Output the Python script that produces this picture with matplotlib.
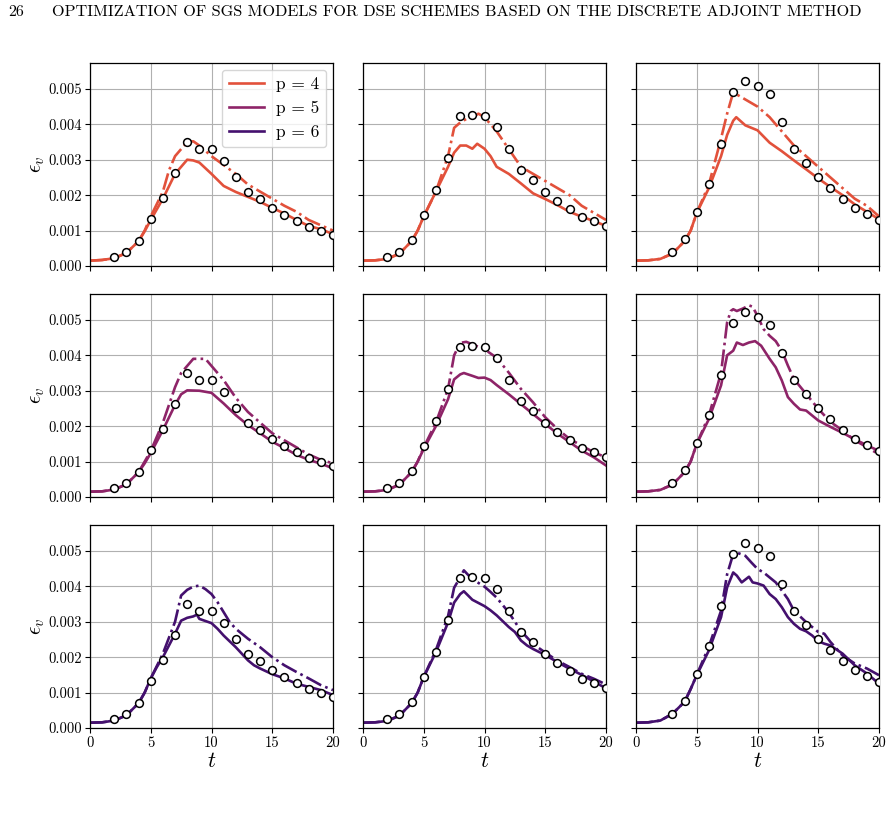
import matplotlib
matplotlib.use("Agg")
import matplotlib.pyplot as plt

plt.rcParams['font.family'] = ['cmr10', 'DejaVu Serif']
plt.rcParams['mathtext.fontset'] = 'cm'
plt.rcParams['axes.formatter.use_mathtext'] = True

# ---------------- data ----------------
orders = [4, 5, 6]
colors = ['#e2513b', '#8e2468', '#44106e']

# reference (DNS) points, per column
ref_t_c1 = [2, 3, 4, 5, 6, 7, 8, 9, 10, 11, 12, 13, 14, 15, 16, 17, 18, 19, 20]
ref_y_c1 = [0.00024, 0.00039, 0.0007, 0.00132, 0.00193, 0.00262, 0.00349, 0.00329, 0.00331, 0.00297,
            0.0025, 0.00209, 0.00188, 0.00163, 0.00144, 0.00126, 0.0011, 0.00099, 0.00088]
ref_t_c2 = [2, 3, 4, 5, 6, 7, 8, 9, 10, 11, 12, 13, 14, 15, 16, 17, 18, 19, 20]
ref_y_c2 = [0.00024, 0.00039, 0.00073, 0.00144, 0.00214, 0.00306, 0.00424, 0.00427, 0.00423, 0.00393,
            0.0033, 0.00272, 0.00242, 0.00209, 0.00184, 0.0016, 0.00139, 0.00126, 0.00112]
ref_t_c3 = [3, 4, 5, 6, 7, 8, 9, 10, 11, 12, 13, 14, 15, 16, 17, 18, 19, 20]
ref_y_c3 = [0.00039, 0.00075, 0.00153, 0.00231, 0.00343, 0.00491, 0.00522, 0.00508, 0.00486, 0.00407,
            0.00329, 0.00291, 0.00251, 0.00219, 0.0019, 0.00164, 0.00146, 0.0013]

# p = 4
p4c1_solid_t = [0, 1, 2, 3, 4, 4.5, 5, 6, 7, 7.5, 8, 8.5, 9, 10, 11, 12, 13, 14, 15, 16, 17, 18, 19, 20]
p4c1_solid_y = [0.00015, 0.00017, 0.00022, 0.00037, 0.0007, 0.00098, 0.0013, 0.0019, 0.0026, 0.0028, 0.003,
                0.00298, 0.00292, 0.0026, 0.00226, 0.00209, 0.00195, 0.00181, 0.00164, 0.00148, 0.0013,
                0.00113, 0.00104, 0.0009]
p4c1_dash_t = [0, 1, 2, 3, 4, 4.5, 5, 6, 6.5, 7, 7.5, 8, 8.5, 9, 10, 11, 12, 13, 14, 15, 16, 17, 18, 19, 20]
p4c1_dash_y = [0.00015, 0.00017, 0.00022, 0.00037, 0.0007, 0.001, 0.0014, 0.0021, 0.0027, 0.0031, 0.0033,
               0.0035, 0.00352, 0.0034, 0.0031, 0.00285, 0.0026, 0.0023, 0.0021, 0.0019, 0.0017, 0.00153,
               0.0013, 0.00115, 0.001]
p4c2_solid_t = [0, 1, 2, 3, 4, 4.5, 5, 6, 7, 7.5, 8, 8.5, 9, 9.4, 10, 10.5, 11, 11.5, 12, 13, 14, 15, 16, 17,
                18, 19, 20]
p4c2_solid_y = [0.00015, 0.00016, 0.0002, 0.00035, 0.0007, 0.001, 0.0014, 0.0021, 0.0028, 0.0032, 0.0034,
                0.0034, 0.00331, 0.00345, 0.00331, 0.0031, 0.0028, 0.0027, 0.0026, 0.00233, 0.00205,
                0.00189, 0.00172, 0.00153, 0.00139, 0.00127, 0.00113]
p4c2_dash_t = [0, 1, 2, 3, 4, 4.5, 5, 6, 7, 7.5, 8, 8.5, 9, 9.5, 10, 11, 12, 13, 14, 15, 16, 17, 18, 19, 20]
p4c2_dash_y = [0.00015, 0.00016, 0.0002, 0.00035, 0.0007, 0.001, 0.0014, 0.0021, 0.0031, 0.0039, 0.00405,
               0.00415, 0.0042, 0.0043, 0.0042, 0.0038, 0.0033, 0.0028, 0.0026, 0.0024, 0.0022, 0.002,
               0.0017, 0.0015, 0.0013]
p4c3_solid_t = [0, 1, 2, 3, 4, 4.5, 5, 6, 7, 7.5, 8, 8.25, 9, 10, 11, 12, 13, 14, 15, 16, 17, 18, 19, 20]
p4c3_solid_y = [0.00015, 0.00016, 0.0002, 0.00035, 0.0007, 0.001, 0.0015, 0.0022, 0.0031, 0.0037, 0.0041,
                0.0042, 0.00397, 0.00383, 0.00348, 0.00324, 0.00298, 0.00273, 0.00247, 0.00223, 0.002,
                0.00174, 0.00153, 0.00132]
p4c3_dash_t = [0, 1, 2, 3, 4, 4.5, 5, 6, 7, 7.5, 8, 8.5, 9, 10, 11, 12, 13, 14, 15, 16, 17, 18, 19, 20]
p4c3_dash_y = [0.00015, 0.00016, 0.0002, 0.00035, 0.0007, 0.001, 0.0015, 0.0023, 0.0036, 0.0043, 0.0049,
               0.0048, 0.0047, 0.0045, 0.0042, 0.0038, 0.0034, 0.0031, 0.0028, 0.0025, 0.0022, 0.0019,
               0.0017, 0.0014]

# p = 5
p5c1_solid_t = [0, 1, 2, 3, 4, 4.5, 5, 6, 7, 7.5, 8, 9, 10, 11, 12, 13, 14, 15, 16, 17, 18, 19, 20]
p5c1_solid_y = [0.00015, 0.00016, 0.00021, 0.00036, 0.0007, 0.00095, 0.00124, 0.00189, 0.0026, 0.0029,
                0.00301, 0.003, 0.00294, 0.00264, 0.00231, 0.00203, 0.0018, 0.00156, 0.00138, 0.00119,
                0.00105, 0.00094, 0.00081]
p5c1_dash_t = [0, 1, 2, 3, 4, 4.5, 5, 6, 7, 7.5, 8, 8.5, 9, 9.5, 10, 11, 12, 13, 14, 15, 16, 17, 18, 19, 20]
p5c1_dash_y = [0.00015, 0.00016, 0.00021, 0.00036, 0.0007, 0.001, 0.0013, 0.0021, 0.0031, 0.0035, 0.0037,
               0.0039, 0.0039, 0.0039, 0.0037, 0.0033, 0.0028, 0.0024, 0.0021, 0.0018, 0.0016, 0.0014,
               0.0012, 0.00105, 0.00095]
p5c2_solid_t = [0, 1, 2, 3, 4, 4.5, 5, 6, 7, 7.5, 8, 8.3, 9, 9.5, 10, 10.5, 11, 12, 13, 14, 15, 16, 17, 18,
                19, 20]
p5c2_solid_y = [0.00015, 0.00016, 0.0002, 0.00035, 0.0007, 0.001, 0.00136, 0.002, 0.00276, 0.00332, 0.00346,
                0.0035, 0.00342, 0.00336, 0.00337, 0.0033, 0.00316, 0.0029, 0.00262, 0.00234, 0.00206,
                0.00179, 0.00155, 0.00131, 0.00112, 0.00089]
p5c2_dash_t = [0, 1, 2, 3, 4, 4.5, 5, 6, 7, 7.5, 8, 8.5, 9, 10, 11, 12, 13, 14, 15, 16, 17, 18, 19, 20]
p5c2_dash_y = [0.00015, 0.00016, 0.0002, 0.00035, 0.0007, 0.001, 0.0014, 0.0021, 0.00305, 0.004, 0.00435,
               0.00438, 0.00431, 0.00417, 0.00393, 0.00351, 0.00305, 0.00267, 0.00225, 0.00192, 0.00164,
               0.00145, 0.00126, 0.00112]
p5c3_solid_t = [0, 1, 2, 3, 4, 4.5, 5, 6, 7, 7.5, 8, 8.3, 8.8, 9.3, 9.8, 10.3, 11, 11.5, 12, 12.5, 13, 13.5,
                14, 14.5, 15, 16, 17, 18, 19, 20]
p5c3_solid_y = [0.00015, 0.00016, 0.0002, 0.00035, 0.0007, 0.001, 0.0015, 0.0022, 0.00315, 0.004, 0.00413,
                0.00436, 0.00429, 0.00436, 0.0044, 0.00427, 0.0039, 0.00366, 0.00329, 0.00282, 0.00263,
                0.00247, 0.00244, 0.0023, 0.00216, 0.00198, 0.00181, 0.00163, 0.00146, 0.0013]
p5c3_dash_t = [0, 1, 2, 3, 4, 4.5, 5, 6, 7, 7.5, 7.8, 8, 8.3, 8.8, 9.3, 9.6, 10, 10.5, 11, 11.5, 12, 12.5,
               13, 14, 15, 16, 17, 18, 19, 20]
p5c3_dash_y = [0.00015, 0.00016, 0.0002, 0.00035, 0.0007, 0.001, 0.0015, 0.0023, 0.0035, 0.00493, 0.00525,
               0.0053, 0.00525, 0.00532, 0.00541, 0.00537, 0.00511, 0.00474, 0.00455, 0.0044, 0.00413,
               0.00371, 0.00333, 0.00291, 0.00249, 0.00212, 0.00188, 0.0016, 0.00141, 0.0012]

# p = 6
p6c1_solid_t = [0, 1, 2, 3, 4, 4.5, 5, 5.5, 6, 7, 7.5, 8, 8.5, 8.8, 9, 10, 10.5, 11, 12, 13, 13.5, 14, 15,
                16, 17, 18, 19, 20]
p6c1_solid_y = [0.00015, 0.00016, 0.00021, 0.00036, 0.0007, 0.001, 0.0014, 0.00172, 0.002, 0.00266, 0.00303,
                0.00311, 0.00315, 0.0032, 0.00308, 0.00296, 0.0028, 0.00261, 0.00228, 0.00191, 0.00177,
                0.00168, 0.00152, 0.0014, 0.00125, 0.00116, 0.00107, 0.00093]
p6c1_dash_t = [0, 1, 2, 3, 4, 4.5, 5, 6, 7, 7.5, 8, 8.5, 9, 9.5, 10, 10.5, 11, 11.5, 12, 13, 14, 15, 16, 17,
               18, 19, 20]
p6c1_dash_y = [0.00015, 0.00016, 0.00021, 0.00036, 0.0007, 0.001, 0.0014, 0.0021, 0.003, 0.00374, 0.0039,
               0.00399, 0.00402, 0.00392, 0.00378, 0.00355, 0.00327, 0.00299, 0.0028, 0.00252, 0.00228,
               0.002, 0.00177, 0.00158, 0.0014, 0.00121, 0.00107]
p6c2_solid_t = [0, 1, 2, 3, 4, 4.5, 5, 6, 7, 7.5, 8, 8.3, 9, 9.5, 10, 10.5, 11, 12, 12.5, 13, 13.5, 14, 15,
                16, 17, 18, 19, 20]
p6c2_solid_y = [0.00015, 0.00016, 0.0002, 0.00035, 0.0007, 0.001, 0.00144, 0.00214, 0.00298, 0.00354,
                0.00378, 0.00386, 0.00362, 0.00353, 0.00344, 0.00332, 0.00318, 0.00285, 0.00271, 0.00247,
                0.00233, 0.00223, 0.00206, 0.00186, 0.00167, 0.0015, 0.00131, 0.00112]
p6c2_dash_t = [0, 1, 2, 3, 4, 4.5, 5, 6, 7, 7.5, 8, 8.3, 8.6, 9, 10, 10.5, 11, 12, 13, 14, 15, 16, 17, 18,
               19, 20]
p6c2_dash_y = [0.00015, 0.00016, 0.0002, 0.00035, 0.0007, 0.001, 0.00144, 0.0022, 0.00316, 0.00396, 0.00425,
               0.00445, 0.00434, 0.0042, 0.00399, 0.00384, 0.00368, 0.00326, 0.00274, 0.00237, 0.00213,
               0.0019, 0.00172, 0.00153, 0.00139, 0.00123]
p6c3_solid_t = [0, 1, 2, 3, 4, 4.5, 5, 6, 7, 7.5, 8, 8.3, 8.7, 9.3, 9.6, 10, 10.5, 11, 11.5, 12, 12.5, 13,
                13.5, 14, 14.5, 15, 15.5, 16, 17, 18, 19, 20]
p6c3_solid_y = [0.00015, 0.00016, 0.00021, 0.0004, 0.00074, 0.0011, 0.00149, 0.00219, 0.00313, 0.00397,
                0.00439, 0.0043, 0.00411, 0.00427, 0.00411, 0.00408, 0.00402, 0.00378, 0.00364, 0.00341,
                0.00313, 0.00294, 0.0028, 0.00273, 0.00261, 0.00245, 0.00238, 0.00233, 0.0021, 0.00177,
                0.00154, 0.00125]
p6c3_dash_t = [0, 1, 2, 3, 4, 4.5, 5, 6, 7, 7.5, 8, 8.3, 9, 9.5, 10, 10.5, 11, 11.5, 12, 12.5, 13, 14, 15,
               15.5, 16, 17, 18, 19, 20]
p6c3_dash_y = [0.00015, 0.00016, 0.00021, 0.0004, 0.00074, 0.0011, 0.0015, 0.0023, 0.00331, 0.00434,
               0.00491, 0.00495, 0.00486, 0.00467, 0.00449, 0.00439, 0.00425, 0.00411, 0.00388, 0.00364,
               0.00331, 0.00299, 0.00271, 0.00266, 0.00243, 0.00205, 0.00182, 0.00168, 0.00149]

solid_t = [[p4c1_solid_t, p4c2_solid_t, p4c3_solid_t],
           [p5c1_solid_t, p5c2_solid_t, p5c3_solid_t],
           [p6c1_solid_t, p6c2_solid_t, p6c3_solid_t]]
solid_y = [[p4c1_solid_y, p4c2_solid_y, p4c3_solid_y],
           [p5c1_solid_y, p5c2_solid_y, p5c3_solid_y],
           [p6c1_solid_y, p6c2_solid_y, p6c3_solid_y]]
dash_t = [[p4c1_dash_t, p4c2_dash_t, p4c3_dash_t],
          [p5c1_dash_t, p5c2_dash_t, p5c3_dash_t],
          [p6c1_dash_t, p6c2_dash_t, p6c3_dash_t]]
dash_y = [[p4c1_dash_y, p4c2_dash_y, p4c3_dash_y],
          [p5c1_dash_y, p5c2_dash_y, p5c3_dash_y],
          [p6c1_dash_y, p6c2_dash_y, p6c3_dash_y]]
ref_t = [ref_t_c1, ref_t_c2, ref_t_c3]
ref_y = [ref_y_c1, ref_y_c2, ref_y_c3]

y_ticks = [0.0, 0.001, 0.002, 0.003, 0.004, 0.005]
y_ticklabels = ['0.000', '0.001', '0.002', '0.003', '0.004', '0.005']
x_ticks = [0, 5, 10, 15, 20]
header_page = '26'
header_title = 'OPTIMIZATION OF SGS MODELS FOR DSE SCHEMES BASED ON THE DISCRETE ADJOINT METHOD'

# ---------------- figure ----------------
W, H = 891, 816
fig = plt.figure(figsize=(W / 100, H / 100), dpi=100)
fig.text(8 / W, 1 - 12 / H, header_page, fontsize=11.5, va='center', ha='left')
fig.text(52 / W, 1 - 12 / H, header_title, fontsize=11.7, va='center', ha='left')

col_x = [90, 363, 636]
row_y = [63, 294, 525]
aw, ah = 243, 203

for r in range(3):
    for c in range(3):
        ax = fig.add_axes([col_x[c] / W, 1 - (row_y[r] + ah) / H, aw / W, ah / H])
        ax.grid(True, color='#b0b0b0', linewidth=0.8, zorder=0)
        ax.set_axisbelow(True)
        ax.plot(solid_t[r][c], solid_y[r][c], '-', color=colors[r], lw=1.9, zorder=2)
        ax.plot(dash_t[r][c], dash_y[r][c], '-.', color=colors[r], lw=1.9, zorder=2)
        ax.plot(ref_t[c], ref_y[c], 'o', mfc='white', mec='black', mew=1.1, ms=5.6, zorder=3)
        ax.set_xlim(0, 20)
        ax.set_ylim(0, 0.00573)
        ax.set_xticks(x_ticks)
        ax.set_yticks(y_ticks)
        ax.tick_params(labelsize=10.5, length=3.5, width=0.8, pad=2.5)
        if c == 0:
            ax.set_yticklabels(y_ticklabels)
            ax.set_ylabel(r'$\epsilon_v$', fontsize=15, labelpad=1)
        else:
            ax.set_yticklabels([])
        if r == 2:
            ax.set_xticklabels([str(v) for v in x_ticks])
            ax.set_xlabel(r'$t$', fontsize=16, labelpad=1)
        else:
            ax.set_xticklabels([])
        for s in ax.spines.values():
            s.set_linewidth(0.9)
        if r == 0 and c == 0:
            handles = [plt.Line2D([], [], color=colors[i], lw=1.9) for i in range(3)]
            ax.legend(handles, ['p = %d' % p for p in orders], loc='upper right', fontsize=12.5,
                      handlelength=2.0, handletextpad=0.7, borderpad=0.4, labelspacing=0.5,
                      framealpha=0.8, borderaxespad=0.4)

fig.savefig('out.png', dpi=100)
